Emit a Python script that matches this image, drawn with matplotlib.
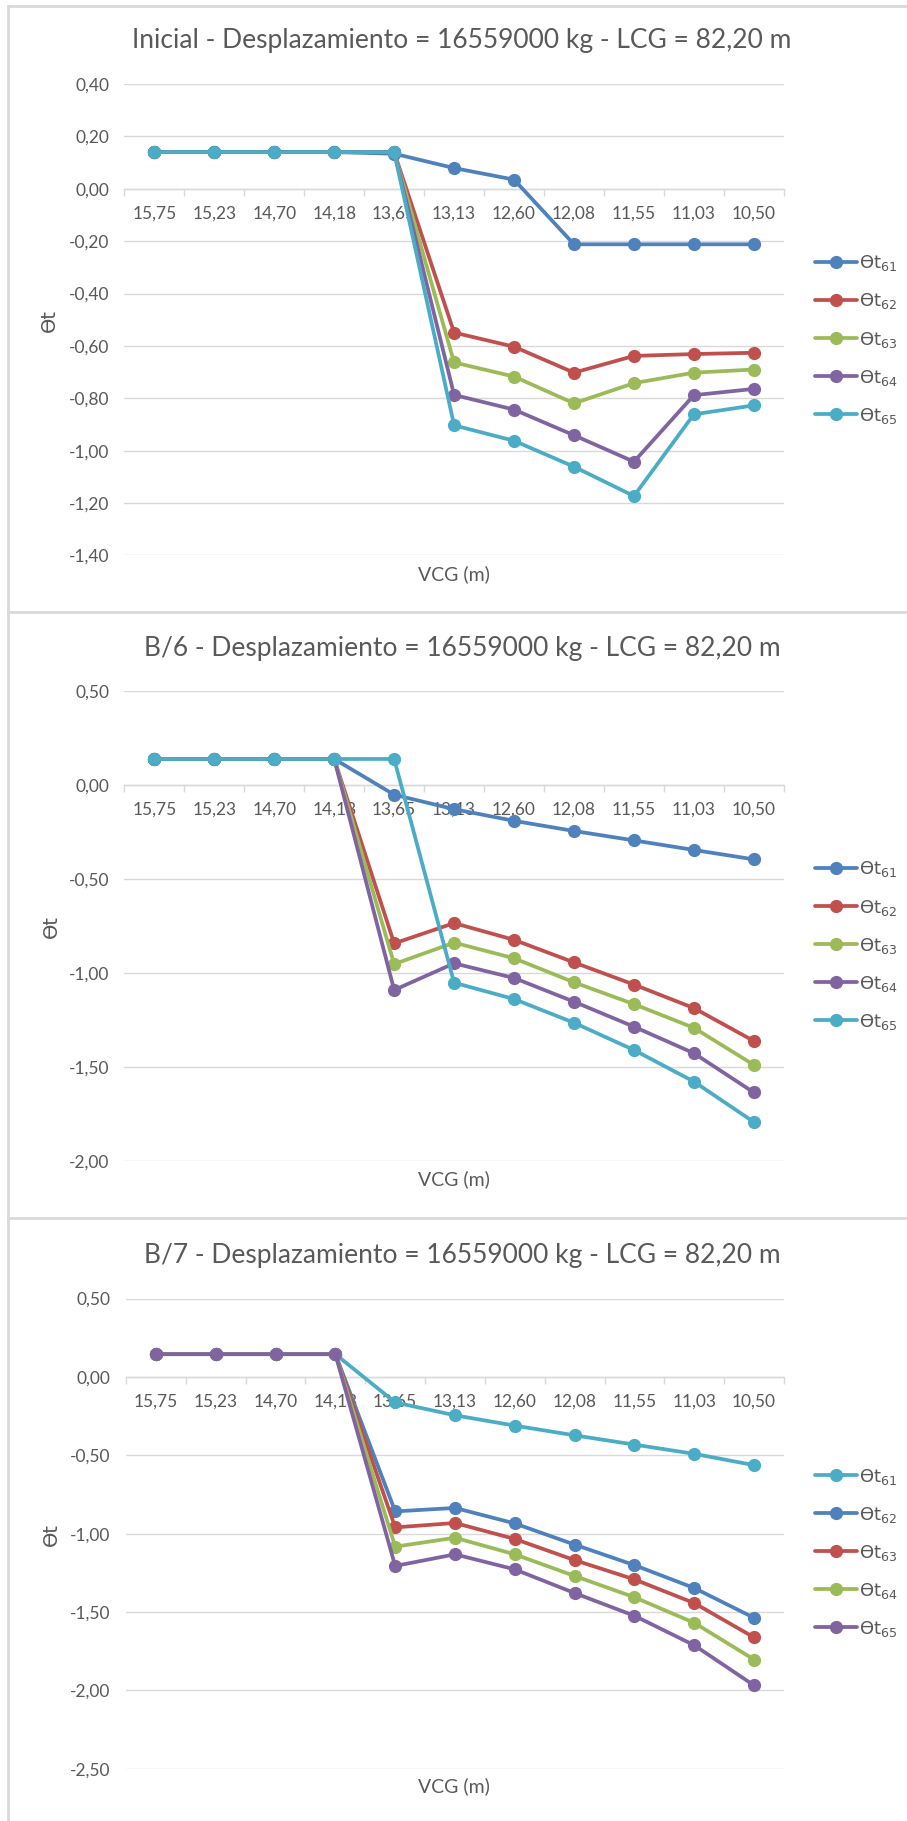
import matplotlib
matplotlib.use("Agg")
import matplotlib.pyplot as plt
from matplotlib.ticker import FixedLocator, FuncFormatter, NullFormatter
from matplotlib.lines import Line2D

plt.rcParams['font.family'] = ['Lato', 'DejaVu Sans']
plt.rcParams['mathtext.fontset'] = 'dejavusans'

# ---------------- data ----------------
categories = ["15,75", "15,23", "14,70", "14,18", "13,65", "13,13",
              "12,60", "12,08", "11,55", "11,03", "10,50"]
series_names = ["ϴt$_{61}$", "ϴt$_{62}$", "ϴt$_{63}$", "ϴt$_{64}$", "ϴt$_{65}$"]

titles = ["Inicial - Desplazamiento = 16559000 kg - LCG = 82,20 m",
          "B/6 - Desplazamiento = 16559000 kg - LCG = 82,20 m",
          "B/7 - Desplazamiento = 16559000 kg - LCG = 82,20 m"]

# Panel 1: Inicial
ini_61 = [0.14, 0.14, 0.14, 0.14, 0.134, 0.079, 0.035, -0.212, -0.212, -0.212, -0.212]
ini_62 = [0.14, 0.14, 0.14, 0.14, 0.14, -0.549, -0.603, -0.702, -0.638, -0.631, -0.626]
ini_63 = [0.14, 0.14, 0.14, 0.14, 0.14, -0.663, -0.717, -0.819, -0.742, -0.702, -0.690]
ini_64 = [0.14, 0.14, 0.14, 0.14, 0.14, -0.787, -0.843, -0.941, -1.042, -0.788, -0.764]
ini_65 = [0.14, 0.14, 0.14, 0.14, 0.14, -0.903, -0.962, -1.061, -1.173, -0.861, -0.827]

# Panel 2: B/6
b6_61 = [0.14, 0.14, 0.14, 0.14, -0.050, -0.127, -0.189, -0.243, -0.293, -0.344, -0.394]
b6_62 = [0.14, 0.14, 0.14, 0.14, -0.841, -0.733, -0.822, -0.942, -1.060, -1.185, -1.360]
b6_63 = [0.14, 0.14, 0.14, 0.14, -0.951, -0.837, -0.920, -1.048, -1.164, -1.290, -1.487]
b6_64 = [0.14, 0.14, 0.14, 0.14, -1.089, -0.947, -1.025, -1.151, -1.284, -1.425, -1.634]
b6_65 = [0.14, 0.14, 0.14, 0.14, 0.14, -1.050, -1.137, -1.263, -1.408, -1.576, -1.791]

# Panel 3: B/7
b7_61 = [0.145, 0.145, 0.145, 0.145, -0.163, -0.245, -0.311, -0.373, -0.432, -0.491, -0.563]
b7_62 = [0.145, 0.145, 0.145, 0.145, -0.858, -0.836, -0.935, -1.070, -1.201, -1.347, -1.537]
b7_63 = [0.145, 0.145, 0.145, 0.145, -0.960, -0.932, -1.034, -1.169, -1.292, -1.443, -1.662]
b7_64 = [0.145, 0.145, 0.145, 0.145, -1.083, -1.026, -1.132, -1.270, -1.406, -1.569, -1.803]
b7_65 = [0.145, 0.145, 0.145, 0.145, -1.206, -1.132, -1.228, -1.379, -1.524, -1.712, -1.968]

# Excel 2010 palette
BLUE, RED, GREEN, PURPLE, CYAN = "#4F81BD", "#C0504D", "#9BBB59", "#8064A2", "#4BACC6"

panel_data = [
    [ini_61, ini_62, ini_63, ini_64, ini_65],
    [b6_61, b6_62, b6_63, b6_64, b6_65],
    [b7_61, b7_62, b7_63, b7_64, b7_65],
]
panel_colors = [
    [BLUE, RED, GREEN, PURPLE, CYAN],
    [BLUE, RED, GREEN, PURPLE, CYAN],
    [CYAN, BLUE, RED, GREEN, PURPLE],
]
panel_yticks = [
    [0.40, 0.20, 0.00, -0.20, -0.40, -0.60, -0.80, -1.00, -1.20, -1.40],
    [0.50, 0.00, -0.50, -1.00, -1.50, -2.00],
    [0.50, 0.00, -0.50, -1.00, -1.50, -2.00, -2.50],
]

# ---------------- layout (pixels) ----------------
W, H = 907, 1821
fig = plt.figure(figsize=(W / 100, H / 100), dpi=100)
fig.patch.set_facecolor("white")

def fx(x):
    return x / W

def fy(y):
    return 1 - y / H

# plot areas: left, right, top, bottom in px
areas = [(124.4, 783.8, 84.0, 555.5),
         (124.4, 783.8, 691.3, 1161.3),
         (126.0, 784.0, 1298.5, 1768.8)]
title_y = [40.8, 648.9, 1255.6]
xlabel_y = [574.0, 1178.8, 1786.0]
ylabel_xy = [(49, 321), (51, 927), (51, 1534)]
legend_mid = [336.5, 942.6, 1549.7]

TXT = "#595959"
GRID = "#D9D9D9"

# panel borders
border_kw = dict(color=GRID, lw=2, transform=fig.transFigure, figure=fig)
fig.lines.append(Line2D([fx(8), fx(8)], [fy(5.5), 0], **border_kw))
for yb in [5.5, 612.3, 1218.3]:
    fig.lines.append(Line2D([fx(8), 1], [fy(yb), fy(yb)], **border_kw))

fmt = FuncFormatter(lambda v, p: f"{v:.2f}".replace(".", ","))
x = list(range(len(categories)))

for i in range(3):
    l, r, t, b = areas[i]
    ax = fig.add_axes([fx(l), fy(b), fx(r) - fx(l), fy(t) - fy(b)])
    ax.set_facecolor("none")
    yt = panel_yticks[i]
    ax.set_ylim(min(yt), max(yt))
    ax.set_xlim(-0.5, len(categories) - 0.5)
    for s in ["top", "right", "left"]:
        ax.spines[s].set_visible(False)
    ax.spines["bottom"].set_position(("data", 0))
    ax.spines["bottom"].set_color(GRID)
    ax.spines["bottom"].set_linewidth(1)

    ax.yaxis.set_major_locator(FixedLocator(yt))
    ax.yaxis.set_major_formatter(fmt)
    ax.tick_params(axis="y", length=0, pad=11, labelsize=12.5, labelcolor=TXT)
    ax.yaxis.grid(True, color=GRID, lw=1)
    ax.set_axisbelow(True)

    ax.xaxis.set_major_locator(FixedLocator([k - 0.5 for k in range(len(categories) + 1)]))
    ax.xaxis.set_major_formatter(NullFormatter())
    ax.xaxis.set_minor_locator(FixedLocator(x))
    ax.set_xticks(x, categories, minor=True)
    ax.tick_params(axis="x", which="major", length=5, color=GRID, width=1, direction="out")
    ax.tick_params(axis="x", which="minor", length=0, pad=12, labelsize=12.5, labelcolor=TXT)

    handles = []
    for j, (vals, c) in enumerate(zip(panel_data[i], panel_colors[i])):
        h, = ax.plot(x, vals, color=c, lw=2.7, marker="o", markersize=8.5,
                     solid_capstyle="round", zorder=3 + j, clip_on=False,
                     label=series_names[j])
        handles.append(h)

    fig.text(fx(462), fy(title_y[i]), titles[i], ha="center", va="center",
             fontsize=19, color=TXT)
    fig.text(fx(454), fy(xlabel_y[i]), "VCG (m)", ha="center", va="center",
             fontsize=14, color=TXT)
    fig.text(fx(ylabel_xy[i][0]), fy(ylabel_xy[i][1]), "ϴt", ha="center", va="center",
             rotation=90, fontsize=14, color=TXT, family=["DejaVu Sans"])

    leg = fig.legend(handles=handles, loc="center left",
                     bbox_to_anchor=(fx(815), fy(legend_mid[i] + 3)),
                     bbox_transform=fig.transFigure, frameon=False,
                     prop={"family": ["DejaVu Sans"], "size": 13},
                     handlelength=2.35, handletextpad=0.1, labelspacing=1.0,
                     borderpad=0, borderaxespad=0)
    for txt in leg.get_texts():
        txt.set_color(TXT)

fig.savefig("out.png", dpi=100, facecolor="white")
